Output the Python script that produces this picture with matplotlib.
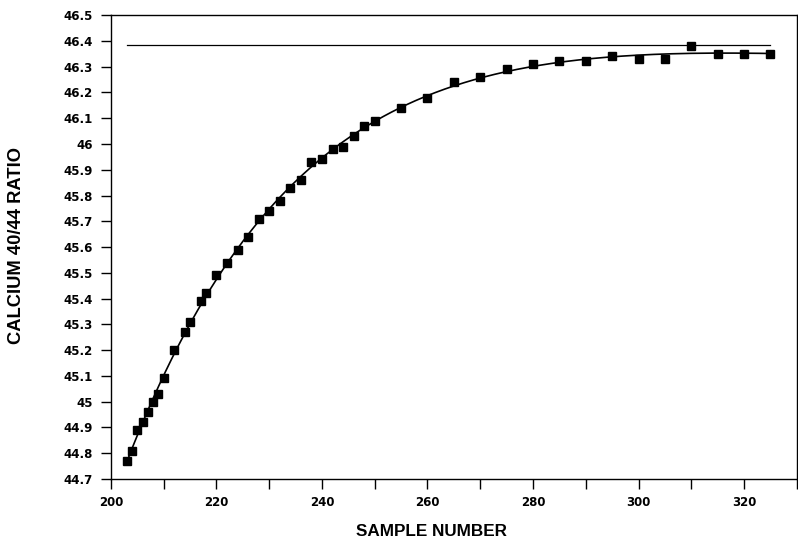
import numpy as np
import matplotlib
matplotlib.use("Agg")
import matplotlib.pyplot as plt
from matplotlib.ticker import MultipleLocator, FuncFormatter

# Measured Ca 40/44 ratios by sample number
sample = [203, 204, 205, 206, 207, 208, 209, 210, 212, 214, 215, 217, 218,
          220, 222, 224, 226, 228, 230, 232, 234, 236, 238, 240, 242, 244,
          246, 248, 250, 255, 260, 265, 270, 275, 280, 285, 290, 295, 300,
          305, 310, 315, 320, 325]
ratio = [44.77, 44.81, 44.89, 44.92, 44.96, 45.00, 45.03, 45.09, 45.20, 45.27,
         45.31, 45.39, 45.42, 45.49, 45.54, 45.59, 45.64, 45.71, 45.74, 45.78,
         45.83, 45.86, 45.93, 45.94, 45.98, 45.99, 46.03, 46.07, 46.09, 46.14,
         46.18, 46.24, 46.26, 46.29, 46.31, 46.32, 46.32, 46.34, 46.33, 46.33,
         46.38, 46.35, 46.35, 46.35]

# Reference ratio level
ref_level = 46.385
ref_span = [203, 325]

x = np.array(sample, float)
y = np.array(ratio, float)

# Smooth approach curve: quadratic in u = exp(-(x - x0) / tau)
best = None
for tau in np.linspace(5, 120, 1151):
    u = np.exp(-(x - x[0]) / tau)
    A = np.column_stack([np.ones_like(x), u, u ** 2])
    coef, *_ = np.linalg.lstsq(A, y, rcond=None)
    r = np.sum((A @ coef - y) ** 2)
    if best is None or r < best[0]:
        best = (r, tau, coef)
_, tau, coef = best
xf = np.linspace(x[0], x[-1], 400)
uf = np.exp(-(xf - x[0]) / tau)
yf = coef[0] + coef[1] * uf + coef[2] * uf ** 2

label_family = ['Liberation Sans', 'DejaVu Sans']
plt.rcParams['font.family'] = ['DejaVu Sans']

fig = plt.figure(figsize=(7.98, 5.49), dpi=100)
ax = fig.add_axes([0.139, 0.1275, 0.8595, 0.845])

ax.plot(ref_span, [ref_level, ref_level], color='black', lw=0.9)
ax.plot(xf, yf, color='black', lw=1.2)
ax.plot(x, y, linestyle='none', marker='s', ms=6.3, color='black')

ax.set_xlim(200, 330)
ax.set_ylim(44.7, 46.5)
ax.xaxis.set_major_locator(MultipleLocator(20))
ax.xaxis.set_minor_locator(MultipleLocator(10))
ax.yaxis.set_major_locator(MultipleLocator(0.1))
ax.yaxis.set_major_formatter(FuncFormatter(lambda v, p: f"{round(v, 1):g}"))
ax.xaxis.set_major_formatter(FuncFormatter(lambda v, p: f"{int(round(v))}"))

ax.tick_params(axis='both', which='both', direction='out', width=1.0,
               labelsize=8.5, color='black')
ax.tick_params(axis='y', length=7, pad=6)
ax.tick_params(axis='x', which='major', length=7, pad=5)
ax.tick_params(axis='x', which='minor', length=7)
for lab in ax.get_xticklabels() + ax.get_yticklabels():
    lab.set_fontweight('bold')
for s in ax.spines.values():
    s.set_linewidth(1.0)

ax.set_xlabel('SAMPLE NUMBER', fontsize=12.3, fontweight='bold', family=label_family)
ax.set_ylabel('CALCIUM 40/44 RATIO', fontsize=13.2, fontweight='bold', family=label_family)
ax.xaxis.set_label_coords(0.467, -0.098)
ax.yaxis.set_label_coords(-0.125, 0.504)

fig.savefig('out.png', dpi=100)
